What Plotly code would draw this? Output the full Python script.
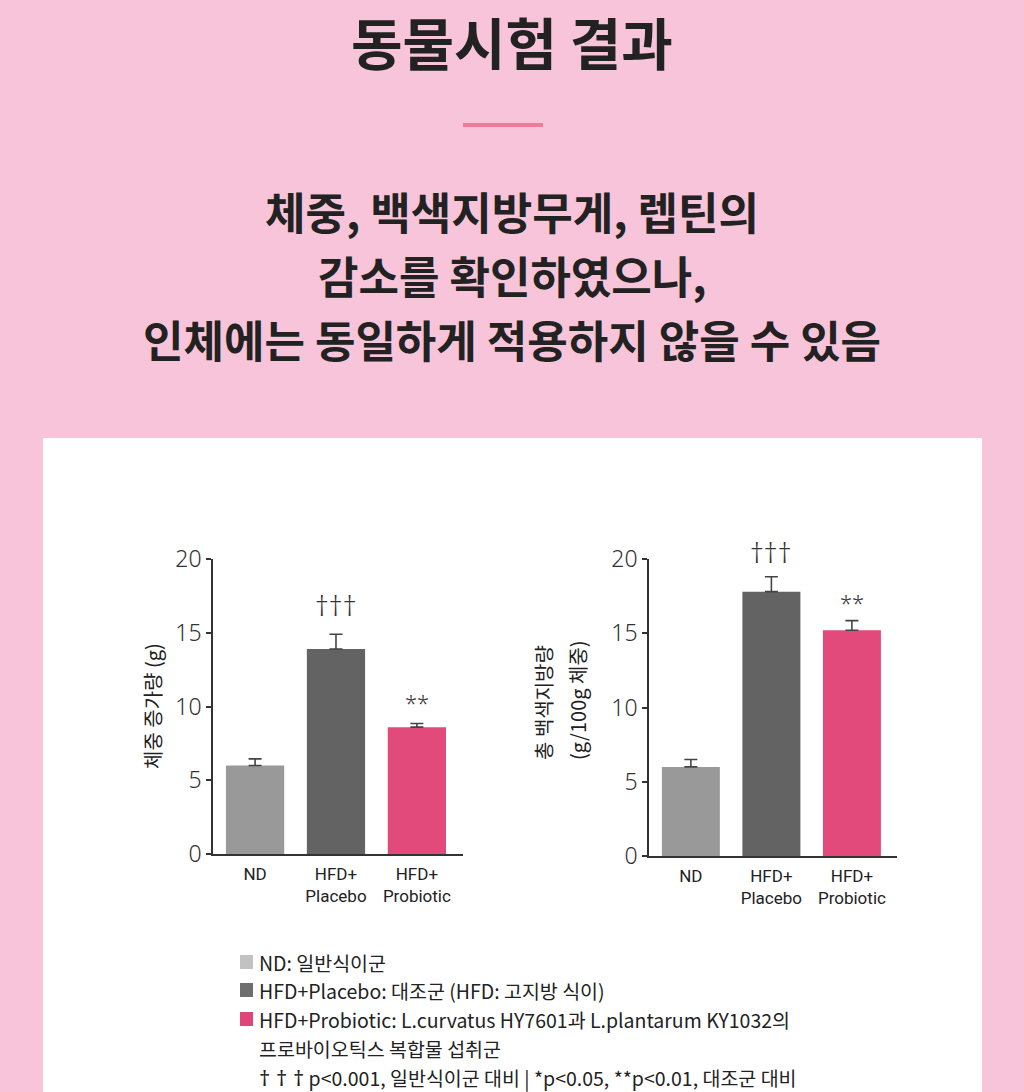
import plotly.graph_objects as go

# ---- data ----
groups = ["ND", "HFD+<br>Placebo", "HFD+<br>Probiotic"]
weight_gain = [6.0, 13.9, 8.6]
weight_gain_err = [0.45, 1.0, 0.25]
fat_weight = [6.0, 17.8, 15.2]
fat_weight_err = [0.5, 1.0, 0.65]
y_ticks = [0, 5, 10, 15, 20]
sig_chart1 = [("†††", 1, 16.9), ("**", 2, 10.3)]
sig_chart2 = [("†††", 1, 20.5), ("**", 2, 17.1)]
legend_lines = [
    ("ND: 일반식이군", "#c2c2c2"),
    ("HFD+Placebo: 대조군 (HFD: 고지방 식이)", "#6e6e6e"),
    ("HFD+Probiotic: L.curvatus HY7601과 L.plantarum KY1032의", "#e0457a"),
    ("프로바이오틱스 복합물 섭취군", None),
    ("<span style=\"font-family:'Noto Sans';font-size:22px\">† † †</span> p<0.001, 일반식이군 대비 | *p<0.05, **p<0.01, 대조군 대비", None),
]
title_text = "동물시험 결과"
subtitle_lines = ["체중, 백색지방무게, 렙틴의", "감소를 확인하였으나,", "인체에는 동일하게 적용하지 않을 수 있음"]

bar_colors = ["#999999", "#636363", "#e24a7b"]
W, H = 1024, 1092
KR = "Noto Sans CJK KR"

def px(x):
    return x / W

def py(y):
    return 1 - y / H

dom1 = [py(854), py(559)]
dom2 = [py(856), py(559)]
YMAX = 20.0

fig = go.Figure()

for data, err, xa, ya in [(weight_gain, weight_gain_err, "x", "y"),
                          (fat_weight, fat_weight_err, "x2", "y2")]:
    fig.add_trace(go.Bar(
        x=groups, y=data, xaxis=xa, yaxis=ya,
        marker=dict(color=bar_colors, line=dict(width=0)),
        width=0.72,
        error_y=dict(type="data", array=err, arrayminus=[0] * len(err), symmetric=False,
                     color="#444444", thickness=1.6, width=6.5),
        showlegend=False, hoverinfo="skip",
    ))

axis_common = dict(showline=True, linecolor="#333333", linewidth=1.5, showgrid=False,
                   zeroline=False, mirror=False, automargin=False)
xfont = dict(family="Roboto", size=17, color="#222222", weight=400)
yfont = dict(family="Noto Sans", size=23, color="#333333", weight=300)
fig.update_layout(
    width=W, height=H,
    margin=dict(l=0, r=0, t=0, b=0, pad=0, autoexpand=False),
    paper_bgcolor="#f7c4d9", plot_bgcolor="rgba(0,0,0,0)",
    font=dict(family=KR, color="#222222"),
    showlegend=False,
    xaxis=dict(domain=[px(213), px(463)], anchor="y", range=[-0.52, 2.57], ticks="",
               tickfont=xfont, ticklabelstandoff=4, **axis_common),
    yaxis=dict(domain=dom1, anchor="x", range=[0, YMAX], tickvals=y_ticks,
               ticks="outside", ticklen=5, tickwidth=1.5, tickcolor="#333333",
               tickfont=yfont, **axis_common),
    xaxis2=dict(domain=[px(649), px(897)], anchor="y2", range=[-0.52, 2.56], ticks="",
                tickfont=xfont, ticklabelstandoff=4, **axis_common),
    yaxis2=dict(domain=dom2, anchor="x2", range=[0, YMAX], tickvals=y_ticks,
                ticks="outside", ticklen=5, tickwidth=1.5, tickcolor="#333333",
                tickfont=yfont, **axis_common),
)

shapes = [
    dict(type="rect", xref="paper", yref="paper", x0=px(43), x1=px(982), y0=-0.01, y1=py(438),
         fillcolor="white", line=dict(width=0), layer="below"),
    dict(type="line", xref="paper", yref="paper", x0=px(463), x1=px(543), y0=py(125), y1=py(125),
         line=dict(color="#ef7d98", width=4)),
]

annotations = [
    dict(text=title_text, xref="paper", yref="paper", x=0.5, y=py(41), xanchor="center",
         yanchor="middle", showarrow=False, font=dict(family=KR, size=56, color="#222222", weight=700)),
]
for i, line in enumerate(subtitle_lines):
    annotations.append(dict(text=line, xref="paper", yref="paper", x=0.5, y=py(211 + i * 64),
                            xanchor="center", yanchor="middle", showarrow=False,
                            font=dict(family=KR, size=44, color="#222222", weight=700)))

# y-axis titles
ytitle_font = dict(family=KR, size=20, color="#222222")
annotations.append(dict(text="체중 증가량 (g)", xref="paper", yref="paper", x=px(152), y=py(706),
                        xanchor="center", yanchor="middle", textangle=-90, showarrow=False,
                        font=ytitle_font))
annotations.append(dict(text="총 백색지방량", xref="paper", yref="paper", x=px(543), y=py(703),
                        xanchor="center", yanchor="middle", textangle=-90, showarrow=False,
                        font=ytitle_font))
annotations.append(dict(text="(g/100g 체중)", xref="paper", yref="paper", x=px(577), y=py(700),
                        xanchor="center", yanchor="middle", textangle=-90, showarrow=False,
                        font=ytitle_font))

for sigs, xr, dom in [(sig_chart1, "x", dom1), (sig_chart2, "x2", dom2)]:
    for txt, xi, yv in sigs:
        fsize = 28 if txt.startswith("†") else 22
        annotations.append(dict(text=txt, xref=xr, yref="paper", x=groups[xi],
                                 y=dom[0] + yv / YMAX * (dom[1] - dom[0]),
                                 xanchor="center", yanchor="middle", showarrow=False,
                                 font=dict(family="Noto Sans", size=fsize, color="#333333", weight=300)))

legend_y = [962, 990, 1019, 1048, 1077]
for (txt, col), yy in zip(legend_lines, legend_y):
    annotations.append(dict(text=txt, xref="paper", yref="paper", x=px(257), y=py(yy),
                            xanchor="left", yanchor="middle", showarrow=False,
                            font=dict(family=KR, size=19.5, color="#222222")))
    if col:
        shapes.append(dict(type="rect", xref="paper", yref="paper", x0=px(240), x1=px(253),
                           y0=py(yy + 7), y1=py(yy - 7), fillcolor=col, line=dict(width=0)))

fig.update_layout(shapes=shapes, annotations=annotations)
fig.write_html("out.html")
